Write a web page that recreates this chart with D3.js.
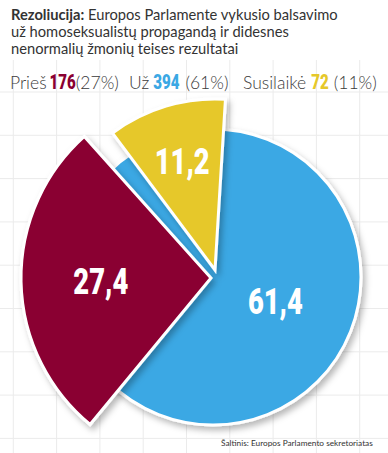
<!DOCTYPE html>
<html>
<head>
<meta charset="utf-8">
<script src="https://cdn.jsdelivr.net/npm/d3@7"></script>
<style>
  html, body { margin: 0; padding: 0; background: #fff; }
  svg { display: block; }
</style>
</head>
<body>
<div id="chart"></div>
<script>
// Vote results, in legend order
const names = ['Prieš', 'Už', 'Susilaikė'];
const votes = [176, 394, 72];
const percents = [27, 61, 11];
const shares = [27.4, 61.4, 11.2];
const shareLabels = ['27,4', '61,4', '11,2'];
const colors = ['#8a0031', '#3ba8e4', '#e6c82a'];

const titleLines = [
  ['Rezoliucija:', ' Europos Parlamente vykusio balsavimo'],
  ['', 'už homoseksualistų propagandą ir didesnes'],
  ['', 'nenormalių žmonių teises rezultatai']
];
const source = 'Šaltinis:  Europos Parlamento sekretoriatas';

// Order in which the slices go round the pie (Už first, from 12 o'clock)
const pieOrder = [1, 0, 2];

const width = 388;
const height = 453;

const svg = d3.select('#chart')
  .append('svg')
  .attr('width', width)
  .attr('height', height);

// Drop shadow for the slices
const defs = svg.append('defs');
defs.append('filter')
  .attr('id', 'shadow')
  .attr('x', '-20%').attr('y', '-20%')
  .attr('width', '150%').attr('height', '150%')
  .append('feDropShadow')
  .attr('dx', 3)
  .attr('dy', 4)
  .attr('stdDeviation', 3)
  .attr('flood-color', '#000')
  .attr('flood-opacity', 0.28);

// Faint background grid
const gx = d3.range(13.3, width, 43.3);
const gy = d3.range(92, height, 43.3);
const grid = svg.append('g').attr('stroke', '#ebebeb').attr('stroke-width', 1);
grid.selectAll('.v').data(gx).enter().append('line')
  .attr('x1', d => d).attr('x2', d => d)
  .attr('y1', 60).attr('y2', height);
grid.selectAll('.h').data(gy).enter().append('line')
  .attr('x1', 0).attr('x2', width)
  .attr('y1', d => d).attr('y2', d => d);

// Title
const title = svg.append('text')
  .attr('font-family', 'Lato, sans-serif')
  .attr('font-size', 14.7)
  .attr('fill', '#333');
titleLines.forEach((l, i) => {
  const line = title.append('tspan').attr('x', 11).attr('y', 20 + i * 17);
  if (l[0]) {
    line.text(l[0]).attr('font-weight', 'bold');
    title.append('tspan').text(l[1]);
  } else {
    line.text(l[1]);
  }
});

// Legend, flowed piece by piece
const legendStarts = [10, 129, 243];
const numGap = [3, 4, 5];
const pctGap = [0, 6, 5];
const legend = svg.append('g').attr('transform', 'translate(0, 89)');
names.forEach((n, i) => {
  let x = legendStarts[i];
  const label = legend.append('text')
    .attr('x', x)
    .attr('font-family', 'Lato, sans-serif')
    .attr('font-weight', 300)
    .attr('font-size', 17.5)
    .attr('fill', '#3a3a3a')
    .text(n);
  x += label.node().getComputedTextLength() + numGap[i];
  const num = legend.append('text')
    .attr('transform', `translate(${x},0) scale(0.72,1)`)
    .attr('font-family', 'Roboto, sans-serif')
    .attr('font-weight', 900)
    .attr('font-size', 21)
    .attr('fill', colors[i])
    .text(votes[i]);
  x += num.node().getComputedTextLength() * 0.72 + pctGap[i];
  legend.append('text')
    .attr('x', x)
    .attr('font-family', 'Lato, sans-serif')
    .attr('font-weight', 300)
    .attr('font-size', 17.5)
    .attr('fill', '#3a3a3a')
    .text(`(${percents[i]}%)`);
});

// Pie
const pie = d3.pie().sort(null).value(i => shares[i]);
const arcs = pie(pieOrder);

// Placement of each exploded slice: centre, radius, extra rotation (degrees)
const layout = {
  0: {cx: 211, cy: 278, r: 190, rot: -1.5, lr: 0.58},
  1: {cx: 213, cy: 277, r: 148, rot: 0, lr: 0.45},
  2: {cx: 215, cy: 270, r: 171, rot: 3.5, lr: 0.67}
};
const rad = Math.PI / 180;

const slices = svg.append('g');
// The biggest share is drawn as the full disc underneath
const base = arcs.find(a => a.data === 1);
const bl = layout[1];
slices.append('path')
  .attr('transform', `translate(${bl.cx},${bl.cy})`)
  .attr('d', d3.arc().innerRadius(0).outerRadius(bl.r)({startAngle: 0, endAngle: 2 * Math.PI}))
  .attr('fill', colors[base.data])
  .attr('stroke', '#fff')
  .attr('stroke-width', 3)
  .attr('filter', 'url(#shadow)');

arcs.filter(a => a.data !== 1).forEach(a => {
  const l = layout[a.data];
  const d = {startAngle: a.startAngle + l.rot * rad, endAngle: a.endAngle + l.rot * rad};
  slices.append('path')
    .attr('transform', `translate(${l.cx},${l.cy})`)
    .attr('d', d3.arc().innerRadius(0).outerRadius(l.r)(d))
    .attr('fill', colors[a.data])
    .attr('stroke', '#fff')
    .attr('stroke-width', 3)
    .attr('stroke-linejoin', 'miter')
    .attr('filter', 'url(#shadow)');
});

// Share labels
arcs.forEach(a => {
  const l = layout[a.data];
  const mid = (a.startAngle + a.endAngle) / 2 + l.rot * rad;
  const x = l.cx + Math.sin(mid) * l.r * l.lr;
  const y = l.cy - Math.cos(mid) * l.r * l.lr;
  svg.append('text')
    .attr('transform', `translate(${x},${y}) scale(0.74,1)`)
    .attr('text-anchor', 'middle')
    .attr('dy', '0.36em')
    .attr('font-family', 'Roboto, sans-serif')
    .attr('font-weight', 900)
    .attr('font-size', 37)
    .attr('fill', '#fff')
    .text(shareLabels[a.data]);
});

// Source, shrunk to fit its slot bottom right
const src = svg.append('text')
  .attr('x', 221)
  .attr('y', 446)
  .attr('font-family', 'Lato, sans-serif')
  .attr('font-size', 9)
  .attr('fill', '#333')
  .text(source);
const srcLen = src.node().getComputedTextLength();
src.attr('font-size', 9 * 152 / srcLen);
</script>
</body>
</html>
